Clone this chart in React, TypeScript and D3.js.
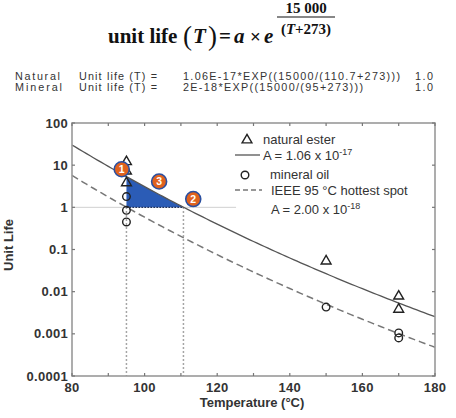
import React from 'react';
import * as d3 from 'd3';

const width = 456;
const height = 418;
const margin = { top: 123, right: 21, bottom: 42, left: 72 };

const naturalTemp = [95, 95, 95, 150, 170, 170];
const naturalLife = [12, 7.2, 3.8, 0.053, 0.0078, 0.0038];
const mineralTemp = [95, 95, 95, 150, 170, 170];
const mineralLife = [1.8, 0.85, 0.45, 0.0043, 0.00105, 0.0008];

// Arrhenius model stated in the chart: life = A * exp(B / (T + 273))
const naturalA = 1.06e-17;
const mineralA = 2e-18;
const activationB = 15000;
const curveTemps = d3.range(80, 180.5, 1);
const refNatural = 110.7;
const refMineral = 95;

const xTicks = [80, 100, 120, 140, 160, 180];
const xMinorTicks = [90, 110, 130, 150, 170];
const yTicks = [100, 10, 1, 0.1, 0.01, 0.001, 0.0001];
const yTickLabels = ['100', '10', '1', '0.1', '0.01', '0.001', '0.0001'];

// numbered badges
const badgeLabels = ['1', '3', '2'];
const badgeTemps = [93.7, 104, 113.4];
const badgeLife = [8, 4.1, 1.57];

const formulaRows = [
  ['Natural', 'Unit life (T) =', '1.06E-17*EXP((15000/(110.7+273)))', '1.0'],
  ['Mineral', 'Unit life (T) =', '2E-18*EXP((15000/(95+273)))', '1.0'],
];
// column spans measured on the picture
const formulaCols = [15, 79, 183, 415];
const formulaLens = [
  [45, 78, 217, 18],
  [47, 78, 180, 18],
];

const life = (a: number, t: number) => a * Math.exp(activationB / (t + 273));

export default function App() {
  const x = d3.scaleLinear().domain([80, 180]).range([margin.left, width - margin.right]);
  const y = d3.scaleLog().domain([0.0001, 100]).range([height - margin.bottom, margin.top]);
  const x0 = x.range()[0], x1 = x.range()[1];
  const y0 = y.range()[0], y1 = y.range()[1];

  const line = d3.line<number>().x(t => x(t)).y(t => y(life(naturalA, t)));
  const dline = d3.line<number>().x(t => x(t)).y(t => y(life(mineralA, t)));

  const wedgeTemps = d3.range(refMineral, refNatural, 0.5).concat([refNatural]);
  const wedge =
    `M${x(refMineral)},${y(1)}L${x(refNatural)},${y(1)}` +
    wedgeTemps.slice().reverse().map(t => `L${x(t)},${y(life(naturalA, t))}`).join('') + 'Z';

  const tri = d3.symbol().type(d3.symbolTriangle).size(42)() as string;
  const sans = '"Liberation Sans", Arial, sans-serif';
  const serif = '"Liberation Serif", "Times New Roman", serif';

  return (
    <svg width={width} height={height} style={{ position: 'absolute', left: 0, top: 0, background: '#fff' }}>
      {/* header formula */}
      <g fontFamily={serif} fontWeight="bold" fill="#111">
        <text x={108} y={43} fontSize={21}>unit life</text>
        <text x={183} y={45} fontSize={27} fontWeight="normal">(</text>
        <text x={193} y={43} fontSize={21} fontStyle="italic">T</text>
        <text x={208} y={45} fontSize={27} fontWeight="normal">)</text>
        <text x={219} y={43} fontSize={21}>=</text>
        <text x={234} y={43} fontSize={21} fontStyle="italic">a</text>
        <text x={250} y={43} fontSize={19}>×</text>
        <text x={264} y={43} fontSize={21} fontStyle="italic">e</text>
        <text x={306} y={13} fontSize={15} textAnchor="middle">15 000</text>
        <line x1={277} x2={335} y1={17} y2={17} stroke="#111" strokeWidth={1.2} />
        <text x={306} y={34} fontSize={15} textAnchor="middle">
          (<tspan fontStyle="italic">T</tspan>+273)
        </text>
      </g>
      <g fontFamily={sans} fontSize={10.8} fill="#333">
        {formulaRows.map((row, i) => (
          <g key={i} transform={`translate(0,${79.5 + i * 11.5})`}>
            {row.map((s, j) => (
              <text key={j} x={formulaCols[j]} textLength={formulaLens[i][j]} lengthAdjust="spacing">{s}</text>
            ))}
          </g>
        ))}
      </g>

      {/* reference lines */}
      <line x1={x0} x2={x(125.2)} y1={y(1)} y2={y(1)} stroke="#d0d0d0" strokeWidth={1} />
      {[refMineral, refNatural].map(t => (
        <line key={t} x1={x(t)} x2={x(t)} y1={y(1)} y2={y0} stroke="#888" strokeWidth={1.5} strokeDasharray="1.5,2.5" />
      ))}

      {/* wedge */}
      <path d={wedge} fill="#2b5cb6" />
      <line x1={x(refMineral)} x2={x(refNatural)} y1={y(1)} y2={y(1)} stroke="#1a2a55" strokeWidth={1.2} strokeDasharray="1.5,1.5" />

      {/* curves */}
      <path d={line(curveTemps) as string} fill="none" stroke="#555" strokeWidth={1.3} />
      <path d={dline(curveTemps) as string} fill="none" stroke="#777" strokeWidth={1.5} strokeDasharray="7,4" />

      {/* points */}
      {naturalTemp.map((t, i) => (
        <path key={'n' + i} d={tri} transform={`translate(${x(t)},${y(naturalLife[i])})`} fill="none" stroke="#222" strokeWidth={1.4} />
      ))}
      {mineralTemp.map((t, i) => (
        <circle key={'m' + i} cx={x(t)} cy={y(mineralLife[i])} r={3.8} fill="none" stroke="#222" strokeWidth={1.4} />
      ))}

      {/* badges */}
      {badgeLabels.map((b, i) => (
        <g key={b} transform={`translate(${x(badgeTemps[i])},${y(badgeLife[i])})`}>
          <circle r={7.5} fill="#e0621e" stroke="#2a4fa0" strokeWidth={1.6} />
          <text y={3.8} textAnchor="middle" fontFamily={sans} fontWeight="bold" fontSize={10.5} fill="#fff">{b}</text>
        </g>
      ))}

      {/* frame and ticks */}
      <rect x={x0} y={y1} width={x1 - x0} height={y0 - y1} fill="none" stroke="#999" strokeWidth={1.6} />
      <g stroke="#777" strokeWidth={1.2}>
        {xTicks.concat(xMinorTicks).map(t => (
          <g key={t}>
            <line x1={x(t)} x2={x(t)} y1={y0} y2={y0 - 3} />
            <line x1={x(t)} x2={x(t)} y1={y1} y2={y1 + 3} />
          </g>
        ))}
        {yTicks.map(v => (
          <g key={v}>
            <line x1={x0} x2={x0 + 3} y1={y(v)} y2={y(v)} />
            <line x1={x1} x2={x1 - 3} y1={y(v)} y2={y(v)} />
          </g>
        ))}
      </g>
      <g fontFamily={sans} fontWeight="bold" fontSize={13} letterSpacing={0.3} fill="#333">
        {yTicks.map((v, i) => (
          <text key={v} x={x0 - 4} y={y(v) + 4.5} textAnchor="end">{yTickLabels[i]}</text>
        ))}
        {xTicks.map(t => (
          <text key={t} x={x(t)} y={y0 + 16} textAnchor="middle">{t}</text>
        ))}
      </g>
      <text x={252} y={407} textAnchor="middle" fontFamily={sans} fontWeight="bold" fontSize={13} fill="#333">Temperature (°C)</text>
      <text transform="translate(13,245) rotate(-90)" textAnchor="middle" fontFamily={sans} fontWeight="bold" fontSize={13} fill="#333">Unit Life</text>

      {/* legend */}
      <g fontFamily={sans} fontSize={13} fill="#333">
        <path d={tri} transform="translate(247,140)" fill="none" stroke="#222" strokeWidth={1.4} />
        <text x={263} y={144}>natural ester</text>
        <line x1={235} x2={260} y1={155} y2={155} stroke="#555" strokeWidth={1.3} />
        <text x={263} y={160}>A = 1.06 x 10<tspan dy={-5} fontSize={9}>-17</tspan></text>
        <circle cx={245} cy={175} r={3.8} fill="none" stroke="#222" strokeWidth={1.4} />
        <text x={270} y={179}>mineral oil</text>
        <line x1={235} x2={262} y1={190} y2={190} stroke="#777" strokeWidth={1.5} strokeDasharray="5,3" />
        <text x={271} y={195}>IEEE 95 °C hottest spot</text>
        <text x={271} y={214}>A = 2.00 x 10<tspan dy={-5} fontSize={9}>-18</tspan></text>
      </g>
    </svg>
  );
}
